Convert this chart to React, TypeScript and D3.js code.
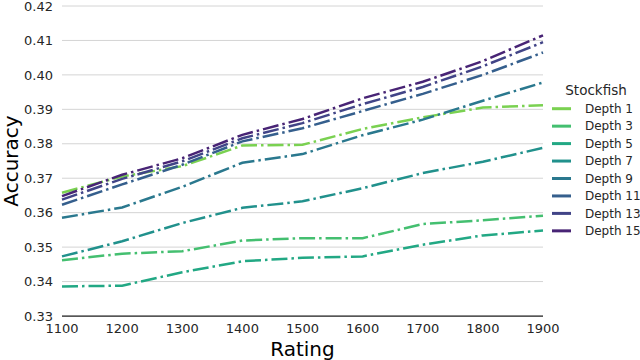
import React, { useRef, useEffect } from "react";
import * as d3 from "d3";

const ratings = [1100, 1200, 1300, 1400, 1500, 1600, 1700, 1800, 1900];
const depths = ["Depth 1", "Depth 3", "Depth 5", "Depth 7", "Depth 9", "Depth 11", "Depth 13", "Depth 15"];

const depth1 = [0.3658, 0.3705, 0.3735, 0.3795, 0.3797, 0.3843, 0.3877, 0.3905, 0.3912];
const depth3 = [0.3462, 0.3481, 0.3488, 0.3519, 0.3526, 0.3526, 0.3567, 0.3578, 0.3591];
const depth5 = [0.3386, 0.3388, 0.3427, 0.3459, 0.3469, 0.3473, 0.3507, 0.3534, 0.3548];
const depth7 = [0.3473, 0.3517, 0.357, 0.3614, 0.3633, 0.3671, 0.3715, 0.3748, 0.3788];
const depth9 = [0.3585, 0.3615, 0.3675, 0.3745, 0.377, 0.3825, 0.387, 0.3925, 0.3978];
const depth11 = [0.3623, 0.3682, 0.3739, 0.3807, 0.3845, 0.3895, 0.3945, 0.4, 0.4065];
const depth13 = [0.3638, 0.3698, 0.3749, 0.3816, 0.386, 0.3915, 0.3965, 0.4025, 0.4095];
const depth15 = [0.3648, 0.371, 0.3758, 0.3826, 0.3872, 0.3932, 0.398, 0.404, 0.4115];

const series = [depth1, depth3, depth5, depth7, depth9, depth11, depth13, depth15];
const yTicks = [0.33, 0.34, 0.35, 0.36, 0.37, 0.38, 0.39, 0.4, 0.41, 0.42];

// viridis samples, light green for depth 1 down to purple for depth 15
const palette = ["#7ad151", "#44bf70", "#22a884", "#21918c", "#2a788e", "#355f8d", "#414487", "#482475"];

const App = () => {
  const svgRef = useRef();

  useEffect(() => {
    const svg = d3.select(svgRef.current);
    svg.selectAll("*").remove();

    const font = "DejaVu Sans, sans-serif";
    const left = 62;
    const right = 543;
    const top = 6;
    const bottom = 316;

    const x = d3.scaleLinear().domain([1100, 1900]).range([left, right]);
    const y = d3.scaleLinear().domain([0.33, 0.42]).range([bottom, top]);
    const color = d3.scaleOrdinal().domain(depths).range(palette);

    // horizontal grid
    svg
      .append("g")
      .selectAll("line")
      .data(yTicks)
      .enter()
      .append("line")
      .attr("x1", left)
      .attr("x2", right)
      .attr("y1", (d) => y(d))
      .attr("y2", (d) => y(d))
      .attr("stroke", "#d4d4d4")
      .attr("stroke-width", 1);

    // y tick labels
    svg
      .append("g")
      .selectAll("text")
      .data(yTicks)
      .enter()
      .append("text")
      .attr("x", 53)
      .attr("y", (d) => y(d))
      .attr("dy", "0.36em")
      .attr("text-anchor", "end")
      .attr("font-family", font)
      .attr("font-size", 13)
      .attr("fill", "#262626")
      .text((d) => d.toFixed(2));

    // bottom axis line
    svg
      .append("line")
      .attr("x1", left)
      .attr("x2", right)
      .attr("y1", bottom)
      .attr("y2", bottom)
      .attr("stroke", "#262626")
      .attr("stroke-width", 1.25);

    // x tick labels
    svg
      .append("g")
      .selectAll("text")
      .data(ratings)
      .enter()
      .append("text")
      .attr("x", (d) => x(d))
      .attr("y", 333)
      .attr("text-anchor", "middle")
      .attr("font-family", font)
      .attr("font-size", 13)
      .attr("fill", "#262626")
      .text((d) => d);

    // axis titles
    svg
      .append("text")
      .attr("x", (left + right) / 2)
      .attr("y", 356)
      .attr("text-anchor", "middle")
      .attr("font-family", font)
      .attr("font-size", 20)
      .attr("fill", "#000")
      .text("Rating");

    svg
      .append("text")
      .attr("transform", `translate(18,${(top + bottom) / 2}) rotate(-90)`)
      .attr("text-anchor", "middle")
      .attr("font-family", font)
      .attr("font-size", 20)
      .attr("fill", "#000")
      .text("Accuracy");

    // lines
    const line = d3
      .line()
      .x((d, i) => x(ratings[i]))
      .y((d) => y(d));

    svg
      .append("g")
      .selectAll("path")
      .data(series)
      .enter()
      .append("path")
      .attr("d", (d) => line(d))
      .attr("fill", "none")
      .attr("stroke", (d, i) => color(depths[i]))
      .attr("stroke-width", 2.5)
      .attr("stroke-dasharray", "16,4,2.5,4");

    // legend
    const legend = svg.append("g");
    legend
      .append("text")
      .attr("x", 596)
      .attr("y", 95)
      .attr("text-anchor", "middle")
      .attr("font-family", font)
      .attr("font-size", 13.5)
      .attr("fill", "#262626")
      .text("Stockfish");

    const items = legend
      .selectAll(".item")
      .data(depths)
      .enter()
      .append("g")
      .attr("class", "item")
      .attr("transform", (d, i) => `translate(0,${108.7 + i * 17.45})`);

    items
      .append("line")
      .attr("x1", 552)
      .attr("x2", 571)
      .attr("stroke", (d) => color(d))
      .attr("stroke-width", 3);

    items
      .append("text")
      .attr("x", 585)
      .attr("dy", "0.36em")
      .attr("font-family", font)
      .attr("font-size", 12)
      .attr("fill", "#262626")
      .text((d) => d);
  }, []);

  return (
    <svg
      ref={svgRef}
      width={640}
      height={360}
      style={{ position: "absolute", left: 0, top: 0, background: "#fff" }}
    ></svg>
  );
};

export default App;
